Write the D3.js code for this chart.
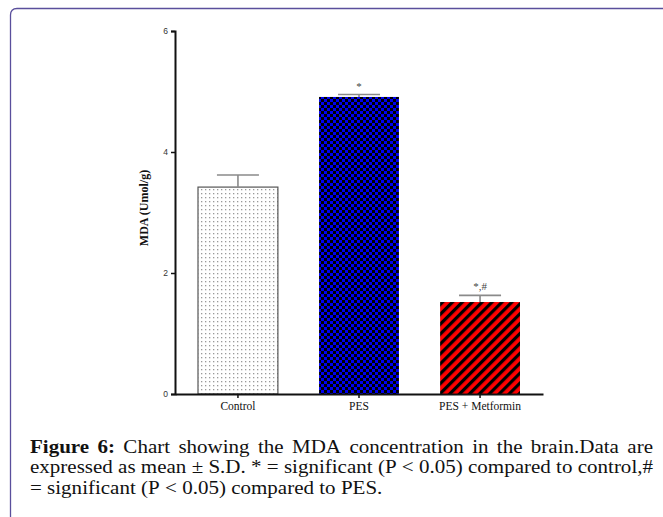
<!DOCTYPE html>
<html>
<head>
<meta charset="utf-8">
<script src="https://cdn.jsdelivr.net/npm/d3@7"></script>
<style>
  html, body { margin: 0; padding: 0; background: #fff; }
  svg { display: block; }
</style>
</head>
<body>
<svg id="chart" width="663" height="517"></svg>
<script>
// MDA concentration per group (mean and S.D.)
const categories = ["Control", "PES", "PES + Metformin"];
const meanValues = [3.42, 4.91, 1.52];
const sdValues = [0.20, 0.04, 0.11];
const sigLabels = ["", "*", "*,#"];
const yTicks = [0, 2, 4, 6];
const yLabel = "MDA (Umol/g)";
// caption lines: [bold lead-in, regular text, justified?]
const captionLines = [
  ["Figure 6:", "Chart showing the MDA concentration in the brain.Data are", true],
  ["", "expressed as mean \u00b1 S.D. * = significant (P < 0.05) compared to control,#", true],
  ["", "= significant (P < 0.05) compared to PES.", false]
];

const svg = d3.select("#chart");

// framing box with rounded top-left corner
svg.append("path")
  .attr("d", "M10.5,520 L10.5,15 Q10.5,8.5 17,8.5 L670,8.5")
  .attr("fill", "none")
  .attr("stroke", "#5a4f9c")
  .attr("stroke-width", 1.3);

const defs = svg.append("defs");

// dotted fill for Control
const pDots = defs.append("pattern").attr("id", "dots")
  .attr("patternUnits", "userSpaceOnUse").attr("width", 4).attr("height", 4);
pDots.append("rect").attr("width", 4).attr("height", 4).attr("fill", "#fff");
pDots.append("rect").attr("x", 1).attr("y", 1).attr("width", 1.3).attr("height", 1.3).attr("fill", "#999");

// checkerboard fill for PES
const pChk = defs.append("pattern").attr("id", "checker")
  .attr("patternUnits", "userSpaceOnUse").attr("width", 6).attr("height", 6);
pChk.append("rect").attr("width", 6).attr("height", 6).attr("fill", "#0000f0");
pChk.append("rect").attr("width", 3).attr("height", 3).attr("fill", "#000");
pChk.append("rect").attr("x", 3).attr("y", 3).attr("width", 3).attr("height", 3).attr("fill", "#000");

// diagonal stripes for PES + Metformin
const pStr = defs.append("pattern").attr("id", "stripes")
  .attr("patternUnits", "userSpaceOnUse").attr("width", 7).attr("height", 7)
  .attr("patternTransform", "rotate(45)");
pStr.append("rect").attr("width", 7).attr("height", 7).attr("fill", "#ff0000");
pStr.append("rect").attr("width", 3.2).attr("height", 7).attr("fill", "#000");

const fills = ["url(#dots)", "url(#checker)", "url(#stripes)"];

const x = d3.scaleBand()
  .domain(categories)
  .range([175, 543])
  .paddingInner(0.34)
  .paddingOuter(0.19);

const y = d3.scaleLinear().domain([0, 6]).range([394, 31]);

const data = categories.map((c, i) => ({ c, v: meanValues[i], sd: sdValues[i], sig: sigLabels[i], fill: fills[i] }));

// bars
svg.append("g").selectAll("rect").data(data).join("rect")
  .attr("x", d => x(d.c))
  .attr("y", d => y(d.v))
  .attr("width", x.bandwidth())
  .attr("height", d => y(0) - y(d.v))
  .attr("fill", d => d.fill)
  .attr("stroke", (d, i) => i === 0 ? "#555" : "none")
  .attr("stroke-width", 1.2);

// upper error bars
const eb = svg.append("g").attr("stroke", "#8a8a8a").attr("stroke-width", 1.6);
eb.selectAll("line.v").data(data).join("line").attr("class", "v")
  .attr("x1", d => x(d.c) + x.bandwidth() / 2)
  .attr("x2", d => x(d.c) + x.bandwidth() / 2)
  .attr("y1", d => y(d.v))
  .attr("y2", d => y(d.v + d.sd));
eb.selectAll("line.cap").data(data).join("line").attr("class", "cap")
  .attr("x1", d => x(d.c) + x.bandwidth() / 2 - 21)
  .attr("x2", d => x(d.c) + x.bandwidth() / 2 + 21)
  .attr("y1", d => y(d.v + d.sd))
  .attr("y2", d => y(d.v + d.sd));

// significance marks
svg.append("g").selectAll("text").data(data.filter(d => d.sig)).join("text")
  .attr("x", d => x(d.c) + x.bandwidth() / 2)
  .attr("y", d => y(d.v + d.sd) - 5)
  .attr("text-anchor", "middle")
  .attr("font-family", "'Liberation Serif', 'Times New Roman', serif")
  .attr("font-size", 11)
  .attr("fill", "#444")
  .text(d => d.sig);

// y axis
const yAxis = svg.append("g").attr("transform", "translate(175,0)")
  .call(d3.axisLeft(y).tickValues(yTicks).tickSize(4).tickPadding(3).tickFormat(d3.format("d")));
yAxis.select(".domain").attr("stroke", "#111").attr("stroke-width", 2);
yAxis.selectAll(".tick line").attr("stroke", "#111").attr("stroke-width", 1.5);
yAxis.selectAll(".tick text")
  .attr("font-family", "'Liberation Sans', Arial, sans-serif")
  .attr("font-size", 8.5).attr("fill", "#333");

// x axis
const xAxis = svg.append("g").attr("transform", "translate(0,394)")
  .call(d3.axisBottom(x).tickSize(4).tickSizeOuter(0).tickPadding(4));
xAxis.select(".domain").attr("stroke", "#111").attr("stroke-width", 2);
xAxis.selectAll(".tick line").attr("stroke", "#111").attr("stroke-width", 1.5);
xAxis.selectAll(".tick text")
  .attr("font-family", "'Liberation Serif', 'Times New Roman', serif")
  .attr("font-size", 11.5).attr("fill", "#111");

// y axis title
svg.append("text")
  .attr("transform", "translate(148,208) rotate(-90)")
  .attr("text-anchor", "middle")
  .attr("font-family", "'Liberation Serif', 'Times New Roman', serif")
  .attr("font-weight", "bold")
  .attr("font-size", 12)
  .attr("fill", "#111")
  .text(yLabel);

// caption: fixed line breaks, condensed type, justified lines
const capLeft = 30, capRight = 653, capFont = 19.5, lineH = 20.5, firstBase = 453;
const serif = "'Liberation Serif', 'Times New Roman', serif";
const measure = svg.append("text")
  .attr("font-family", serif).attr("font-size", capFont).attr("visibility", "hidden");
function wordWidth(w, bold) {
  measure.attr("font-weight", bold ? "bold" : "normal").text(w);
  return measure.node().getComputedTextLength();
}
const spaceW = wordWidth("a a", false) - wordWidth("aa", false);

const lineWords = captionLines.map(([b, t, j]) => {
  const ws = [];
  if (b) b.split(" ").forEach(w => ws.push({ w, bold: true }));
  t.split(" ").forEach(w => ws.push({ w, bold: false }));
  ws.forEach(o => o.width = wordWidth(o.w, o.bold));
  return { ws, justify: j };
});
measure.remove();

// horizontal scale so the tightest line spans the full width
const naturalW = lineWords.map(l => d3.sum(l.ws, o => o.width) + spaceW * (l.ws.length - 1));
const sx = (capRight - capLeft) / naturalW[1];
const avail = (capRight - capLeft) / sx;

const cap = svg.append("g")
  .attr("transform", `translate(${capLeft},0) scale(${sx},1)`)
  .attr("font-family", serif)
  .attr("font-size", capFont).attr("fill", "#111");
lineWords.forEach((l, li) => {
  const total = d3.sum(l.ws, o => o.width);
  const gap = (l.justify && l.ws.length > 1) ? (avail - total) / (l.ws.length - 1) : spaceW;
  let xx = 0;
  l.ws.forEach(o => {
    cap.append("text")
      .attr("x", xx).attr("y", firstBase + li * lineH)
      .attr("font-weight", o.bold ? "bold" : "normal")
      .text(o.w);
    xx += o.width + gap;
  });
});
</script>
</body>
</html>
